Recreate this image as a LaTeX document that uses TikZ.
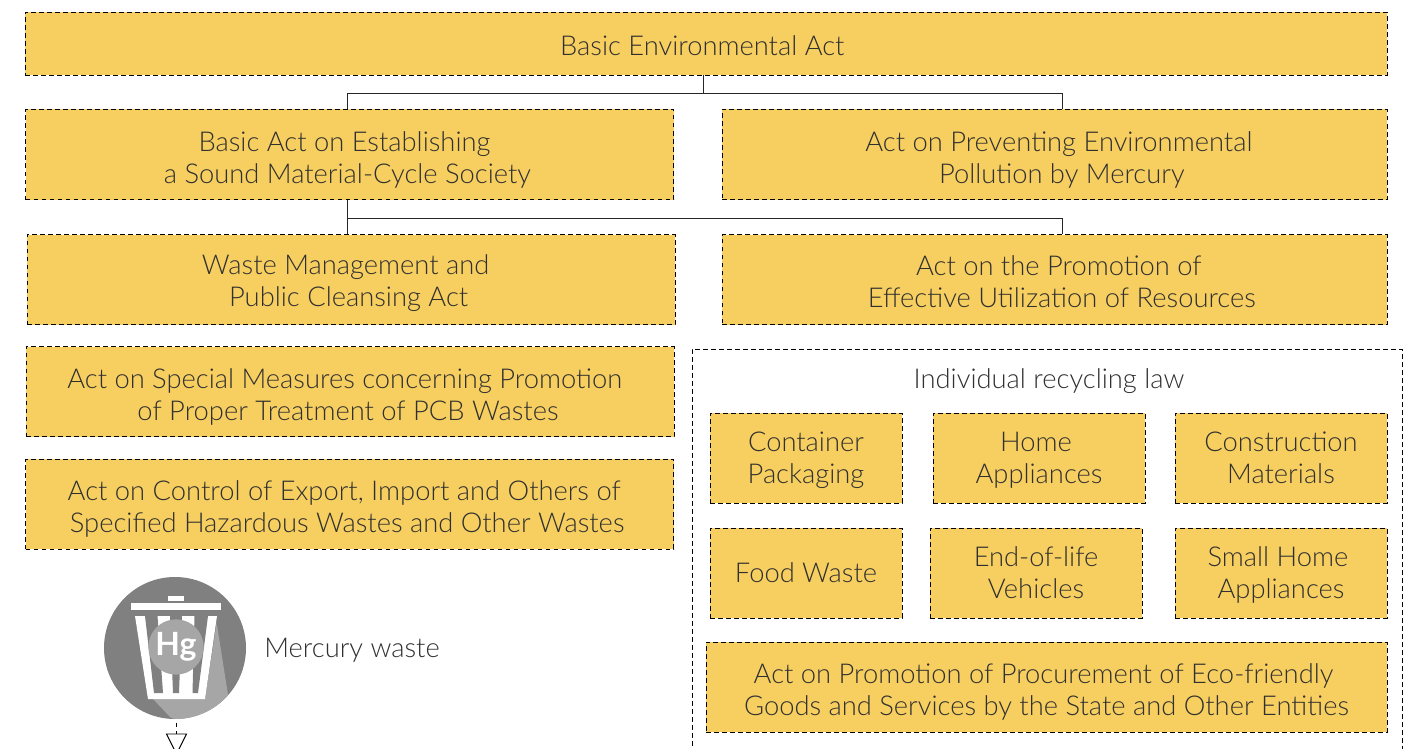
\documentclass[tikz,border=0pt]{standalone}
\usepackage{fontspec}
\setmainfont{Lato}[UprightFont=* Light, BoldFont=* Bold]
\usetikzlibrary{calc,positioning}
\definecolor{lawfill}{HTML}{F7CF60}
\definecolor{lawtext}{HTML}{303030}
\definecolor{bindark}{HTML}{808080}
\definecolor{binlight}{HTML}{A6A6A6}
\newcommand{\tallstrut}{\rule{0pt}{23pt}}
\newcommand{\lowstrut}{\rule{0pt}{18.5pt}}
\newcommand{\taildrop}{\rule[-4.5pt]{0pt}{4.5pt}}
\newcommand{\pushright}{\hspace*{11pt}}
\newcommand{\pad}[1]{\hspace*{#1pt}}

\begin{document}
\begin{tikzpicture}[
    x=0.75pt, y=-0.75pt,
    law/.style={rectangle, draw=black, fill=lawfill, text=lawtext, line width=0.7pt,
        dash pattern=on 3.5pt off 2.5pt, align=center, inner sep=0pt,
        font=\fontsize{20.5}{24}\selectfont, minimum height=67.5pt},
    wide/.style={law, minimum width=486pt},
    right/.style={law, minimum width=498.75pt},
    small/.style={law, minimum width=144pt},
    mid/.style={law, minimum width=159pt},
    link/.style={draw=black!85, line width=0.7pt},
    label/.style={text=lawtext, inner sep=0pt, font=\fontsize{20.5}{24}\selectfont}
]
\path[use as bounding box, clip] (0,0) rectangle (1411,749);

% Top of the hierarchy
\node[law, minimum width=1021.5pt, minimum height=47.25pt] (top) at (706,43.5) {\rule{0pt}{18pt}Basic Environmental Act~};
\node[wide] (basic) at (349.5,154.5) {\tallstrut Basic Act on Establishing\pad{7.5}\\a Sound Material-Cycle Society\pad{3}};
\node[right] (mercury) at (1054.5,154.5) {\tallstrut\pushright Act on Preventing Environmental\pad{4.5}\\\pushright Pollution by Mercury};

% Second level
\node[wide] (waste) at (351,279.5) {\rule{0pt}{20.5pt}Waste Management and\pad{8}\\Public Cleansing Act\pad{3.5}};
\node[right] (resources) at (1054.5,279.5) {\tallstrut\pushright Act on the Promotion of\pad{4.5}\\\pushright Effective Utilization of Resources\taildrop};
\node[wide] (pcb) at (350,391.5) {\tallstrut Act on Special Measures concerning Promotion\pad{8}\\of Proper Treatment of PCB Wastes\pad{3}};
\node[wide] (export) at (349.5,504) {\tallstrut Act on Control of Export, Import and Others of\pad{8}\\Specified Hazardous Wastes and Other Wastes\pad{3.5}};

% Individual recycling law
\node[rectangle, draw=black, line width=0.7pt, dash pattern=on 3.5pt off 2.5pt,
    minimum width=532.5pt, minimum height=315pt] (group) at (1047,559) {};
\node[label] (grouptitle) at (1049,381) {Individual recycling law};
\node[small] (container) at (806,458) {\lowstrut Container\\Packaging};
\node[mid] (home) at (1039,458) {\lowstrut Home\pad{4.5}\\Appliances};
\node[mid] (construction) at (1281,458) {\lowstrut Construction\\Materials\taildrop};
\node[small] (food) at (806,573) {Food Waste};
\node[mid] (vehicles) at (1036,573) {\lowstrut End-of-life\\Vehicles\taildrop};
\node[mid] (smallhome) at (1281,573) {\lowstrut Small Home\pad{4.5}\\Appliances};
\node[law, minimum width=510.75pt] (procure) at (1046.5,687) {\tallstrut Act on Promotion of Procurement of Eco-friendly\pad{4.5}\\Goods and Services by the State and Other Entities};

% Connectors
\coordinate (stema) at (703,93);
\coordinate (busa) at (347,93);
\coordinate (busb) at (1062,93);
\draw[link] (top.south -| stema) -- (stema);
\draw[link] (basic.north -| busa) -- (busa) -- (busb) -- (mercury.north -| busb);
\coordinate (busc) at (347,218);
\coordinate (busd) at (1062,218);
\draw[link] (basic.south -| busc) -- (waste.north -| busc);
\draw[link] (busc) -- (busd) -- (resources.north -| busd);

% Mercury waste icon
\node[circle, fill=bindark, minimum size=106.5pt, inner sep=0pt] (icon) at (175,648) {};
\begin{scope}
\clip (icon.center) circle (71);
\fill[binlight] (216.7,623) -- (227.7,693) -- (240,740) -- (170.7,717.7) -- (153,699) -- (205,699) -- cycle;
\end{scope}
\fill[white] (168,595.5) rectangle (184,600.6);
\fill[white] (131,603) rectangle (221,610);
\fill[white] (135,616) -- (217,616) -- (205,699) -- (148,699) -- cycle;
\fill[bindark] (145,616) -- (157.5,616) -- (163,693) -- (154,693) -- cycle;
\fill[bindark] (170,616) -- (182,616) -- (179,693) -- (173,693) -- cycle;
\fill[bindark] (194.5,616) -- (208,616) -- (198,693) -- (192.5,693) -- cycle;
\node[circle, fill=binlight, minimum size=41.5pt, inner sep=0pt, text=white,
    font=\fontsize{24}{24}\bfseries\selectfont] (hg) at (176,647) {Hg};
\node[label, anchor=west] (mercurywaste) at (264,650) {Mercury waste};

% Stub below the icon
\coordinate (stub) at (176.5,722.5);
\coordinate (tip) at (176.5,734);
\draw[draw=black, line width=0.7pt, dash pattern=on 3pt off 3.5pt] (stub) -- (tip);
\draw[draw=black, line width=0.7pt] (tip) ++(-10,0) -- ++(20,0) -- ++(-10,20) -- cycle;

\end{tikzpicture}
\end{document}
